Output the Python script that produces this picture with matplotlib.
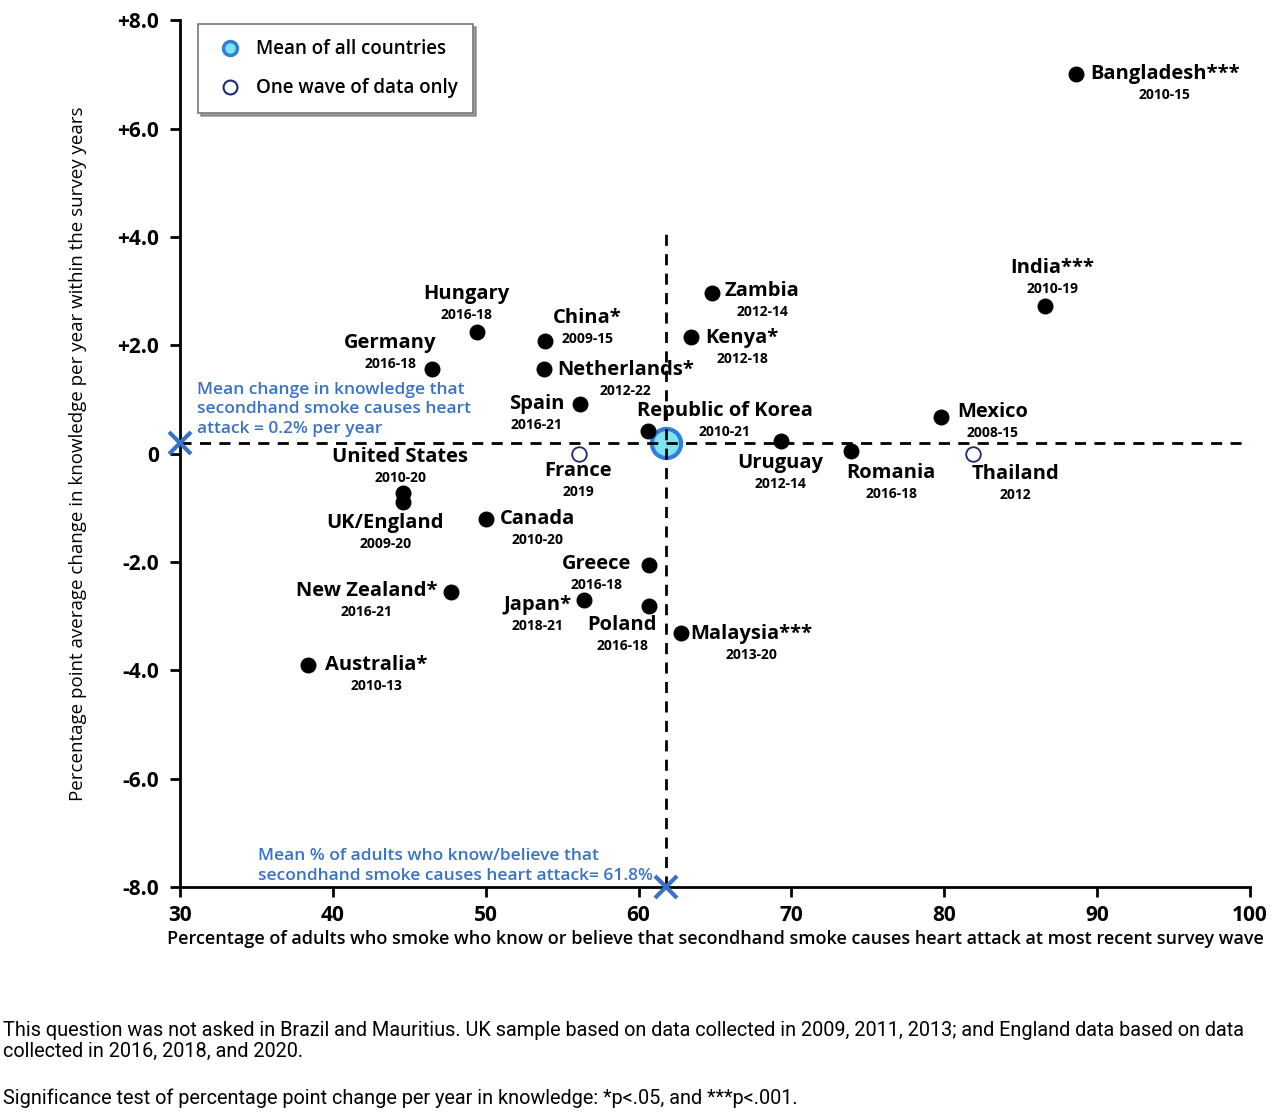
import numpy as np
import matplotlib.pyplot as plt
from matplotlib.lines import Line2D

# country data: knowledge at most recent wave (x), avg change per year (y)
countries = ["Bangladesh***", "India***", "Zambia", "Kenya*", "China*", "Hungary",
             "Germany", "Netherlands*", "Spain", "Republic of Korea", "Uruguay",
             "Romania", "Mexico", "United States", "UK/England", "Canada",
             "Greece", "Japan*", "Poland", "Malaysia***", "New Zealand*", "Australia*"]
years = ["2010-15", "2010-19", "2012-14", "2012-18", "2009-15", "2016-18",
         "2016-18", "2012-22", "2016-21", "2010-21", "2012-14",
         "2016-18", "2008-15", "2010-20", "2009-20", "2010-20",
         "2016-18", "2018-21", "2016-18", "2013-20", "2016-21", "2010-13"]
knowledge = [88.6, 86.6, 64.8, 63.4, 53.9, 49.4, 46.5, 53.8, 56.2, 60.6, 69.3,
             73.9, 79.8, 44.6, 44.6, 50.0, 60.7, 56.4, 60.7, 62.8, 47.7, 38.4]
change = [7.0, 2.73, 2.97, 2.16, 2.07, 2.25, 1.57, 1.57, 0.92, 0.41, 0.24,
          0.04, 0.68, -0.72, -0.89, -1.2, -2.05, -2.71, -2.82, -3.32, -2.56, -3.91]

# one wave only
one_wave = ["France", "Thailand"]
one_wave_years = ["2019", "2012"]
one_wave_x = [56.1, 81.9]
one_wave_y = [0.0, 0.0]

mean_x = 61.8
mean_y = 0.2

# label placement in pixels relative to the dot: (dx, dy, horizontal alignment)
offsets = [(14, 0, "left"), (7, 38, "center"), (13, 2, "left"), (15, -1, "left"),
           (8, 23, "left"), (-10, 38, "center"), (-42, 26, "center"), (13, -1, "left"),
           (-16, 0, "right"), (77, 20, "center"), (0, -22, "center"), (40, -22, "center"),
           (16, 5, "left"), (-3, 36, "center"), (-18, -21, "center"), (14, 0, "left"),
           (-18, 1, "right"), (-12, -5, "right"), (-27, -19, "center"), (9, -1, "left"),
           (-13, 1, "right"), (17, 0, "left")]
ow_offsets = [(-1, -17, "center"), (42, -20, "center")]

blue = "#3a72c6"
plt.rcParams['font.family'] = ['Open Sans', 'DejaVu Sans']

fig = plt.figure(figsize=(12.8, 11.2), dpi=100)
ax = fig.add_axes([0.1406, 0.208, 0.8360, 0.774])

ax.plot([30, 100], [mean_y, mean_y], ls=(0, (4, 3)), color="black", lw=2, zorder=3)
ax.plot([mean_x, mean_x], [-8, 4.15], ls=(0, (4, 3)), color="black", lw=2, zorder=3)

ax.scatter(knowledge, change, s=110, color="black", zorder=4)
ax.scatter(one_wave_x, one_wave_y, s=110, facecolor="white", edgecolor="#1c2a6e", lw=1.3, zorder=4)
ax.plot([mean_x], [mean_y], marker="o", ms=21, mfc="#7fe3f2", mec="#2d7fd8", mew=3, zorder=2)

ax.plot([30], [mean_y], marker="x", ms=16, mew=3, color=blue, clip_on=False, zorder=6)
ax.plot([mean_x], [-8], marker="x", ms=16, mew=3, color=blue, clip_on=False, zorder=6)

for name, yr, x, y, (dx, dy, ha) in zip(countries + one_wave, years + one_wave_years,
                                         knowledge + one_wave_x, change + one_wave_y,
                                         offsets + ow_offsets):
    t = ax.annotate(name, (x, y), xytext=(dx, dy), textcoords="offset pixels",
                    ha=ha, va="center", fontsize=14.5, fontweight="bold", zorder=5)
    ax.annotate(yr, xy=(0.5, 0.5), xycoords=t, xytext=(0, -21), textcoords="offset pixels",
                ha="center", va="center", fontsize=10, fontweight="bold", zorder=5)

ax.text(31.1, 1.33, "Mean change in knowledge that\nsecondhand smoke causes heart\nattack = 0.2% per year",
        color=blue, fontsize=12.5, fontweight="semibold", va="top", ha="left", linespacing=1.32)
ax.text(35.1, -7.28, "Mean % of adults who know/believe that\nsecondhand smoke causes heart attack= 61.8%",
        color=blue, fontsize=12.5, fontweight="semibold", va="top", ha="left", linespacing=1.32)

ax.set_xlim(30, 100)
ax.set_ylim(-8, 8)
ax.set_xticks(np.arange(30, 101, 10))
yt = np.arange(-8, 9, 2)
ax.set_yticks(yt)
ax.set_yticklabels(["0" if v == 0 else f"{v:+.1f}" for v in yt])
for lab in ax.get_xticklabels() + ax.get_yticklabels():
    lab.set_fontsize(15)
    lab.set_fontweight("bold")
ax.tick_params(direction="out", length=7, width=2, pad=8)
ax.tick_params(axis="x", pad=6)
for s in ["top", "right"]:
    ax.spines[s].set_visible(False)
for s in ["left", "bottom"]:
    ax.spines[s].set_linewidth(2)

ax.set_ylabel("Percentage point average change in knowledge per year within the survey years",
              fontsize=13.5, fontweight="medium", labelpad=22)
ax.set_xlabel("Percentage of adults who smoke who know or believe that secondhand smoke causes heart attack at most recent survey wave",
              fontsize=13, fontweight="semibold", labelpad=3)

handles = [Line2D([], [], ls="", marker="o", ms=10, mfc="#7fe3f2", mec="#2d7fd8", mew=2.5),
           Line2D([], [], ls="", marker="o", ms=10, mfc="white", mec="#1c2a6e", mew=1.5)]
leg = ax.legend(handles, ["Mean of all countries", "One wave of data only"],
                loc="upper left", bbox_to_anchor=(0.008, 1.006),
                prop={"size": 13.5, "weight": "semibold"},
                frameon=True, fancybox=False, shadow=True, edgecolor="#777777",
                borderpad=0.8, labelspacing=1.0, handletextpad=0.5, handlelength=1.8)
leg.get_frame().set_linewidth(1.2)

fig.text(0.002, 1 - 1041 / 1120, "This question was not asked in Brazil and Mauritius. UK sample based on data collected in 2009, 2011, 2013; and England data based on data\ncollected in 2016, 2018, and 2020.",
         fontsize=14.3, va="center", ha="left", linespacing=1.18,
         family=["Roboto", "DejaVu Sans"])
fig.text(0.002, 1 - 1098 / 1120, "Significance test of percentage point change per year in knowledge: *p<.05, and ***p<.001.",
         fontsize=14.3, va="center", ha="left",
         family=["Roboto", "DejaVu Sans"])

fig.savefig("out.png", dpi=100)
